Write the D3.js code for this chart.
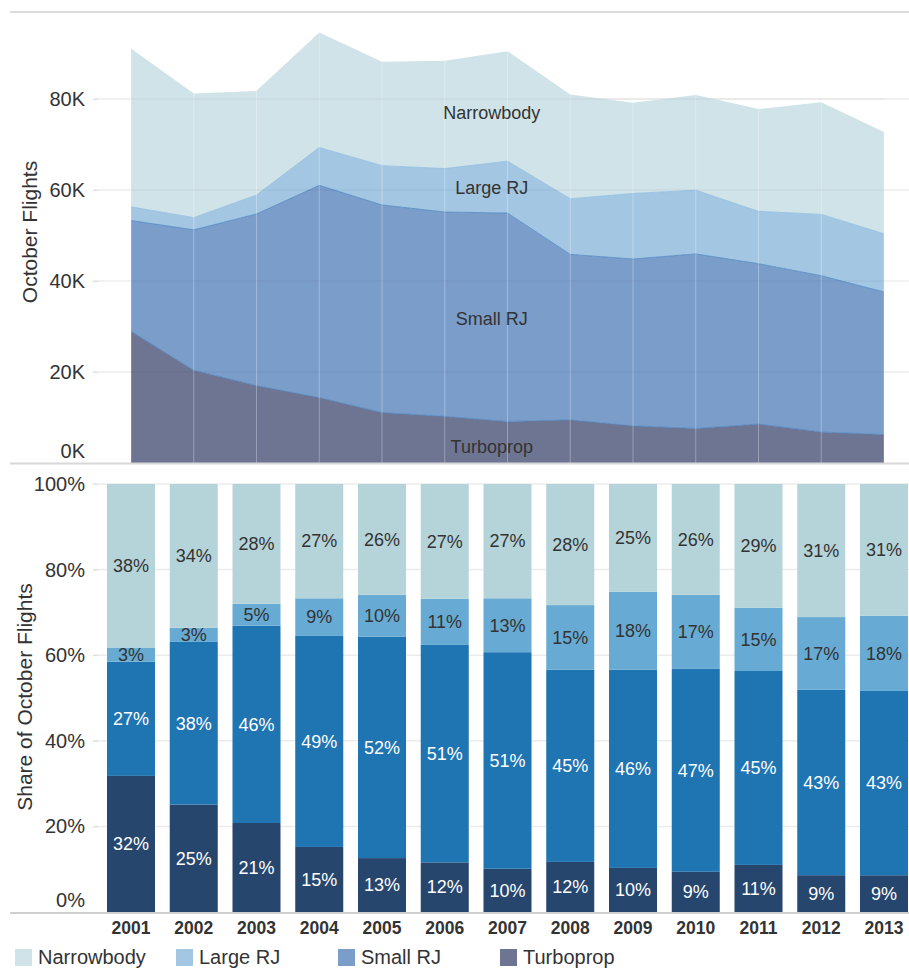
<!DOCTYPE html>
<html>
<head>
<meta charset="utf-8">
<script src="https://cdn.jsdelivr.net/npm/d3@7"></script>
<style>
  html, body { margin: 0; padding: 0; background: #fff; }
  svg { display: block; font-family: "Liberation Sans", Arial, Helvetica, sans-serif; }
</style>
</head>
<body>
<svg id="chart" width="909" height="970"></svg>
<script>
// October flights by aircraft type, 2001-2013
const years = [2001, 2002, 2003, 2004, 2005, 2006, 2007, 2008, 2009, 2010, 2011, 2012, 2013];
const turboprop  = [28970, 20380, 17010, 14380, 11110, 10250,  9140,  9480,  8160,  7600,  8560,  6820,  6250];
const smallRJ    = [24320, 30860, 37710, 46640, 45600, 44910, 45790, 36370, 36670, 38350, 35240, 34340, 31330];
const largeRJ    = [ 3010,  2680,  4170,  8320,  8640,  9550, 11400, 12230, 14410, 14000, 11510, 13480, 12800];
const narrowbody = [34800, 27280, 22900, 25260, 22840, 23690, 24160, 22920, 19960, 20950, 22480, 24660, 22390];

const seriesKeys  = ["turboprop", "smallRJ", "largeRJ", "narrowbody"];
const seriesNames = ["Turboprop", "Small RJ", "Large RJ", "Narrowbody"];
const flightTicks = [0, 20000, 40000, 60000, 80000];
const shareTicks  = [0, 0.2, 0.4, 0.6, 0.8, 1];

const areaColors = { narrowbody: "#d0e3e8", largeRJ: "#a3c7e2", smallRJ: "#7b9dca", turboprop: "#6e7593" };
const barColors  = { narrowbody: "#b5d4da", largeRJ: "#67abd4", smallRJ: "#1f74b2", turboprop: "#26466e" };
const barLabelColors = { narrowbody: "#333", largeRJ: "#333", smallRJ: "#fff", turboprop: "#fff" };

const valuesByKey = { turboprop, smallRJ, largeRJ, narrowbody };
const rows = years.map((year, i) => {
  const r = { year };
  seriesKeys.forEach(k => r[k] = valuesByKey[k][i]);
  r.total = seriesKeys.reduce((s, k) => s + r[k], 0);
  return r;
});

const svg = d3.select("#chart");
const W = 909;

// shared horizontal position of the years
const x = d3.scaleBand().domain(years).range([92.25, 922.75]).paddingInner(0.235).paddingOuter(0.235);
const xc = d => x(d) + x.bandwidth() / 2;

// ---------- upper panel: stacked flight counts ----------
const yTop = d3.scaleLinear().domain([0, 100000]).range([463, 8]);
const upper = svg.append("g");

upper.append("line").attr("x1", 10).attr("x2", W).attr("y1", 12).attr("y2", 12)
  .attr("stroke", "#dcdcdc").attr("stroke-width", 2);

upper.append("g").selectAll("line").data(flightTicks.slice(1)).join("line")
  .attr("x1", 93).attr("x2", W).attr("y1", d => yTop(d)).attr("y2", d => yTop(d))
  .attr("stroke", "#ececec").attr("stroke-width", 1.5);

const stacked = d3.stack().keys(seriesKeys)(rows);

const area = d3.area()
  .x(d => xc(d.data.year))
  .y0(d => yTop(d[0]))
  .y1(d => yTop(d[1]));

upper.append("g").selectAll("path").data(stacked).join("path")
  .attr("d", area)
  .attr("fill", d => areaColors[d.key]);

// thin edges along the top of the lower bands
const edge = d3.line().x(d => xc(d.data.year)).y(d => yTop(d[1]));
upper.append("g").selectAll("path").data(stacked.filter(s => s.key !== "narrowbody")).join("path")
  .attr("d", edge).attr("fill", "none")
  .attr("stroke", d => d.key === "largeRJ" ? "#8fbbe0" : "#4f86c0")
  .attr("stroke-width", 1).attr("stroke-opacity", 0.8);

// grid lines seen through the bands
upper.append("g").selectAll("line").data(years).join("line")
  .attr("x1", d => xc(d)).attr("x2", d => xc(d))
  .attr("y1", d => yTop(rows.find(r => r.year === d).total)).attr("y2", yTop(0))
  .attr("stroke", "#ffffff").attr("stroke-opacity", 0.3).attr("stroke-width", 1);
upper.append("g").selectAll("line").data(flightTicks.slice(1)).join("line")
  .attr("x1", xc(years[0])).attr("x2", xc(years[years.length - 1]))
  .attr("y1", d => yTop(d)).attr("y2", d => yTop(d))
  .attr("stroke", "#000").attr("stroke-opacity", 0.04).attr("stroke-width", 1.5);

// band labels, placed inside each band between 2006 and 2007
const labelPos = 0.75;
const labelDepth = { turboprop: 0.37, smallRJ: 0.49, largeRJ: 0.5, narrowbody: 0.46 };
stacked.forEach((s, si) => {
  const a = s[5], b = s[6];
  const lo = a[0] + (b[0] - a[0]) * labelPos;
  const hi = a[1] + (b[1] - a[1]) * labelPos;
  const px = xc(2006) + (xc(2007) - xc(2006)) * labelPos;
  const mid = lo + (hi - lo) * labelDepth[s.key];
  upper.append("text")
    .attr("x", px).attr("y", yTop(mid)).attr("dy", "0.35em")
    .attr("text-anchor", "middle").attr("font-size", 18).attr("fill", "#333")
    .text(seriesNames[si]);
});

const axTop = d3.axisLeft(yTop).tickValues(flightTicks).tickSize(5).tickPadding(8)
  .tickFormat(d => (d / 1000) + "K");
const gAxTop = upper.append("g").attr("transform", "translate(98,0)").call(axTop);
gAxTop.select(".domain").remove();
gAxTop.selectAll(".tick line").attr("stroke", "#ddd");
gAxTop.selectAll(".tick text").attr("font-size", 20).attr("fill", "#333")
  .attr("font-family", "Liberation Sans, Arial, sans-serif")
  .attr("dy", d => d === 0 ? "-0.28em" : "0.32em");

upper.append("text")
  .attr("transform", "translate(37,232) rotate(-90)")
  .attr("text-anchor", "middle").attr("font-size", 21).attr("fill", "#333")
  .text("October Flights");

upper.append("line").attr("x1", 10).attr("x2", W).attr("y1", 463.5).attr("y2", 463.5)
  .attr("stroke", "#d8d8d8").attr("stroke-width", 2);

// ---------- lower panel: share of flights ----------
const yBot = d3.scaleLinear().domain([0, 1]).range([912, 484]);
const lower = svg.append("g");

lower.append("g").selectAll("line").data(shareTicks.slice(1)).join("line")
  .attr("x1", 93).attr("x2", W).attr("y1", d => yBot(d)).attr("y2", d => yBot(d))
  .attr("stroke", "#ececec").attr("stroke-width", 1.5);

const shareRows = rows.map(r => {
  const o = { year: r.year };
  seriesKeys.forEach(k => o[k] = r[k] / r.total);
  return o;
});
const shareStack = d3.stack().keys(seriesKeys)(shareRows);

const layers = lower.append("g").selectAll("g").data(shareStack).join("g")
  .attr("fill", d => barColors[d.key]);
layers.selectAll("rect").data(d => d).join("rect")
  .attr("x", d => x(d.data.year))
  .attr("width", x.bandwidth())
  .attr("y", d => yBot(d[1]))
  .attr("height", d => yBot(d[0]) - yBot(d[1]));

const labelLayers = lower.append("g").selectAll("g").data(shareStack).join("g")
  .attr("fill", d => barLabelColors[d.key]);
labelLayers.selectAll("text").data(d => d).join("text")
  .attr("x", d => xc(d.data.year))
  .attr("y", d => yBot((d[0] + d[1]) / 2))
  .attr("dy", "0.35em")
  .attr("text-anchor", "middle").attr("font-size", 18)
  .text(d => Math.round((d[1] - d[0]) * 100) + "%");

const axBot = d3.axisLeft(yBot).tickValues(shareTicks).tickSize(5).tickPadding(8)
  .tickFormat(d3.format(".0%"));
const gAxBot = lower.append("g").attr("transform", "translate(98,0)").call(axBot);
gAxBot.select(".domain").remove();
gAxBot.selectAll(".tick line").attr("stroke", "#ddd");
gAxBot.selectAll(".tick text").attr("font-size", 20).attr("fill", "#333")
  .attr("font-family", "Liberation Sans, Arial, sans-serif")
  .attr("dy", d => d === 0 ? "-0.28em" : "0.32em");

lower.append("text")
  .attr("transform", "translate(32,697) rotate(-90)")
  .attr("text-anchor", "middle").attr("font-size", 21).attr("fill", "#333")
  .text("Share of October Flights");

lower.append("line").attr("x1", 10).attr("x2", W).attr("y1", 913).attr("y2", 913)
  .attr("stroke", "#d0d0d0").attr("stroke-width", 2);

const axX = d3.axisBottom(x).tickSize(0).tickPadding(0);
const gAxX = lower.append("g").attr("transform", "translate(0,928)").call(axX);
gAxX.select(".domain").remove();
gAxX.selectAll(".tick text").attr("font-size", 17.5).attr("font-weight", "bold")
  .attr("fill", "#333").attr("dy", "0.35em")
  .attr("font-family", "Liberation Sans, Arial, sans-serif");

// ---------- legend ----------
const legendItems = [
  { key: "narrowbody", name: "Narrowbody", x: 15 },
  { key: "largeRJ", name: "Large RJ", x: 176 },
  { key: "smallRJ", name: "Small RJ", x: 338 },
  { key: "turboprop", name: "Turboprop", x: 500 }
];
const leg = svg.append("g").selectAll("g").data(legendItems).join("g")
  .attr("transform", d => `translate(${d.x},949)`);
leg.append("rect").attr("width", 17).attr("height", 17).attr("fill", d => areaColors[d.key]);
leg.append("text").attr("x", 23).attr("y", 15).attr("font-size", 20).attr("fill", "#333")
  .text(d => d.name);
</script>
</body>
</html>
